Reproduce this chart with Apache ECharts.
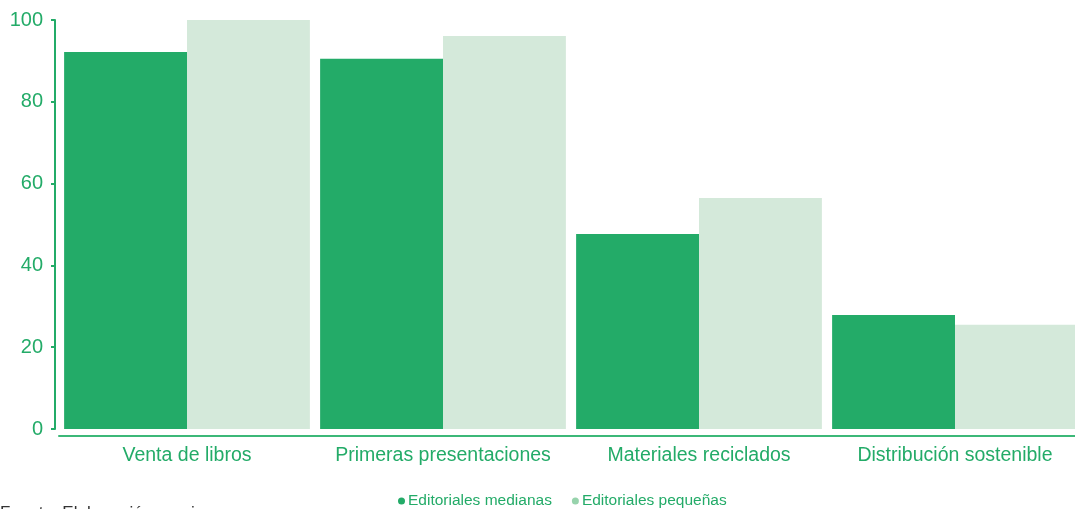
<!DOCTYPE html>
<html>
<head>
<meta charset="utf-8">
<script src="https://cdn.jsdelivr.net/npm/echarts@6/dist/echarts.min.js"></script>
<style>
  html, body { margin: 0; padding: 0; background: #fff; overflow: hidden; }
  #main { width: 1083px; height: 509px; }
</style>
</head>
<body>
<div id="main"></div>
<script>
var categories = ['Venta de libros', 'Primeras presentaciones', 'Materiales reciclados', 'Distribución sostenible'];
var medianas = [92.2, 90.5, 47.7, 27.9];
var pequenas = [100, 96.1, 56.5, 25.5];
var yTicks = [0, 20, 40, 60, 80, 100];

var green = '#23ab68';
var pale = '#d4e9da';
var font = 'Liberation Sans, Arial, sans-serif';

// container is a bit wider than the window: the last bar runs off the right edge
var myChart = echarts.init(document.getElementById('main'));

var option = {
  animation: false,
  grid: {
    left: 59,
    right: 0,
    top: 20,
    bottom: 80,
    containLabel: false
  },
  legend: {
    top: 488,
    left: 393,
    itemWidth: 7,
    itemHeight: 7,
    itemGap: 20,
    icon: 'circle',
    textStyle: {
      color: green,
      fontSize: 15.5,
      fontFamily: font,
      padding: [0, 0, 0, -2]
    },
    data: [
      { name: 'Editoriales medianas', itemStyle: { color: green } },
      { name: 'Editoriales pequeñas', itemStyle: { color: '#97d3ac' } }
    ]
  },
  xAxis: {
    type: 'category',
    data: categories,
    offset: 7,
    axisLine: { onZero: false, lineStyle: { color: '#3cb878', width: 2 } },
    axisTick: { show: false },
    axisLabel: {
      interval: 0,
      color: green,
      fontSize: 19.5,
      fontFamily: font,
      margin: 10
    }
  },
  yAxis: {
    type: 'value',
    min: 0,
    max: 100,
    interval: 20,
    offset: 4,
    splitLine: { show: false },
    axisLine: { show: true, lineStyle: { color: green, width: 2 } },
    axisTick: { show: true, length: 4, lineStyle: { color: green, width: 2 } },
    axisLabel: {
      color: green,
      fontSize: 20,
      fontFamily: font,
      margin: 12,
      formatter: function (v) {
        return yTicks.indexOf(v) >= 0 ? String(v) : '';
      }
    }
  },
  graphic: [{
    type: 'text',
    left: 0,
    top: 505,
    style: {
      text: 'Fuente: Elaboración propia',
      fill: '#333',
      fontSize: 17,
      fontFamily: font
    }
  }],
  series: [{
    name: 'Editoriales medianas',
    type: 'bar',
    data: medianas,
    barGap: '0%',
    barCategoryGap: '4%',
    itemStyle: { color: green }
  }, {
    name: 'Editoriales pequeñas',
    type: 'bar',
    data: pequenas,
    barGap: '0%',
    barCategoryGap: '4%',
    itemStyle: { color: pale }
  }]
};
myChart.setOption(option);
</script>
</body>
</html>
